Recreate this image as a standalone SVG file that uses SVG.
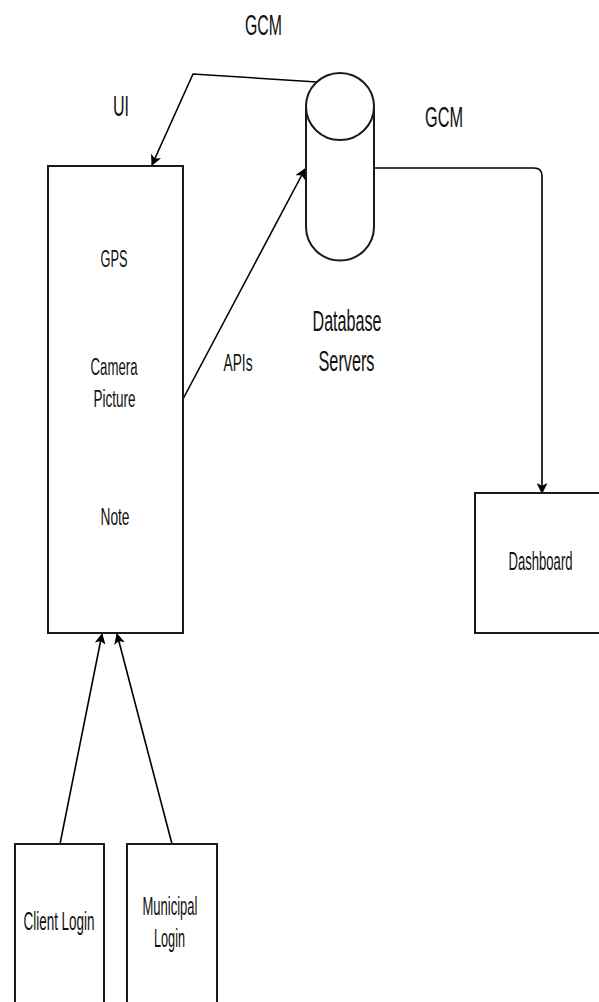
<svg xmlns="http://www.w3.org/2000/svg" width="599" height="1002" viewBox="0 0 599 1002">
<defs>
<style>
.box{fill:#fff;stroke:#1a1a1a;stroke-width:2}
.edge{fill:none;stroke:#000;stroke-width:1.6}
.t{font-family:"Liberation Sans",Arial,sans-serif;fill:#111;text-anchor:middle}
</style>
<marker id="arr" viewBox="0 0 10 10" refX="9" refY="5" markerWidth="11" markerHeight="11" markerUnits="userSpaceOnUse" orient="auto">
<path d="M0,0 L10,5 L0,10 L2.5,5 Z" fill="#000"/>
</marker>
</defs>
<rect width="599" height="1002" fill="#fff"/>
<g id="connectors">
<path class="edge" d="M317,82 L193,74 L152,165" marker-end="url(#arr)"/>
<path class="edge" d="M183,399 L305,169" marker-end="url(#arr)"/>
<path class="edge" d="M374,168 L534,168 Q542,168 542,176 L542,493" marker-end="url(#arr)"/>
<path class="edge" d="M60,844 L102,634" marker-end="url(#arr)"/>
<path class="edge" d="M172,844 L117,634" marker-end="url(#arr)"/>
<text class="t" x="263.5" y="35" font-size="30" textLength="37" lengthAdjust="spacingAndGlyphs">GCM</text>
<text class="t" x="444" y="127" font-size="30" textLength="38" lengthAdjust="spacingAndGlyphs">GCM</text>
<text class="t" x="121" y="116" font-size="30" textLength="16" lengthAdjust="spacingAndGlyphs">UI</text>
<text class="t" x="238" y="371" font-size="24" textLength="29" lengthAdjust="spacingAndGlyphs">APIs</text>
</g>
<g id="ui">
<rect class="box" x="48" y="166" width="135" height="467"/>
<text class="t" x="114" y="267" font-size="23" textLength="27" lengthAdjust="spacingAndGlyphs">GPS</text>
<text class="t" x="114" y="375" font-size="23" textLength="47" lengthAdjust="spacingAndGlyphs">Camera</text>
<text class="t" x="114.5" y="407" font-size="23" textLength="42" lengthAdjust="spacingAndGlyphs">Picture</text>
<text class="t" x="115" y="525" font-size="23" textLength="29" lengthAdjust="spacingAndGlyphs">Note</text>
</g>
<g id="database">
<path class="box" d="M306,106.5 A34,33.5 0 0 1 374,106.5 L374,227 A34,33.5 0 0 1 306,227 Z"/>
<path class="edge" d="M306,106.5 A34,33.5 0 0 0 374,106.5" style="stroke:#1a1a1a;stroke-width:2"/>
<text class="t" x="347" y="331" font-size="30" textLength="69" lengthAdjust="spacingAndGlyphs">Database</text>
<text class="t" x="346.5" y="371" font-size="30" textLength="56" lengthAdjust="spacingAndGlyphs">Servers</text>
</g>
<g id="dashboard">
<rect class="box" x="475" y="493" width="126" height="140"/>
<text class="t" transform="translate(540.5,570) scale(0.504,1)" x="0" y="0" font-size="26">Dashboard</text>
</g>
<g id="client-login">
<rect class="box" x="15" y="844" width="89" height="180"/>
<text class="t" x="59" y="930" font-size="25" textLength="71" lengthAdjust="spacingAndGlyphs">Client Login</text>
</g>
<g id="municipal-login">
<rect class="box" x="127" y="844" width="90" height="180"/>
<text class="t" x="170" y="915" font-size="25" textLength="55" lengthAdjust="spacingAndGlyphs">Municipal</text>
<text class="t" x="169.5" y="947" font-size="25" textLength="31" lengthAdjust="spacingAndGlyphs">Login</text>
</g>
</svg>
